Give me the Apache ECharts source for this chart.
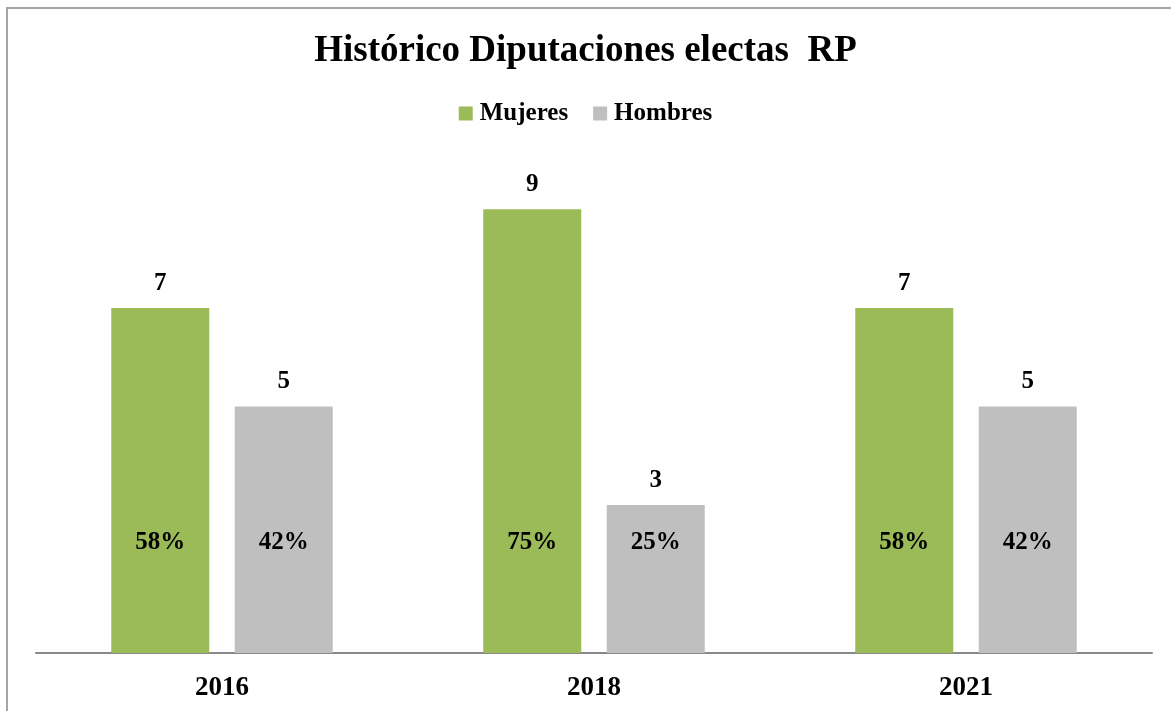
<!DOCTYPE html>
<html>
<head>
<meta charset="utf-8">
<script src="https://cdn.jsdelivr.net/npm/echarts@6/dist/echarts.min.js"></script>
<style>
  html, body { margin: 0; padding: 0; background: #fff; }
  #chart { width: 1171px; height: 711px; }
</style>
</head>
<body>
<div id="chart"></div>
<script>
// datos
const years = ['2016', '2018', '2021'];
const mujeres = [7, 9, 7];
const hombres = [5, 3, 5];
const pctMujeres = ['58%', '75%', '58%'];
const pctHombres = ['42%', '25%', '42%'];

const FONT = '"Liberation Serif", "DejaVu Serif", serif';
const GREEN = '#9bbb59';
const GRAY = '#bfbfbf';

const myChart = echarts.init(document.getElementById('chart'));

const topLabel = {
    show: true,
    position: 'top',
    distance: 12,
    fontFamily: FONT,
    fontWeight: 'bold',
    fontSize: 25,
    color: '#000'
};
const pctLabel = (arr) => ({
    show: true,
    position: 'insideBottom',
    distance: 98,
    fontFamily: FONT,
    fontWeight: 'bold',
    fontSize: 25,
    color: '#000',
    formatter: (p) => arr[p.dataIndex]
});

const option = {
    animation: false,
    title: {
        text: 'Histórico Diputaciones electas  RP',
        left: 'center',
        top: 28,
        textStyle: { fontFamily: FONT, fontWeight: 'bold', fontSize: 37, color: '#000' }
    },
    legend: {
        data: ['Mujeres', 'Hombres'],
        top: 96,
        left: 'center',
        itemWidth: 14,
        itemHeight: 14,
        itemGap: 25,
        icon: 'rect',
        textStyle: { fontFamily: FONT, fontWeight: 'bold', fontSize: 25, color: '#000', padding: [0, 0, 0, 2] }
    },
    graphic: [{
        type: 'rect',
        shape: { x: 7, y: 8, width: 1200, height: 760 },
        style: { fill: 'none', stroke: '#a6a6a6', lineWidth: 2 },
        silent: true
    }],
    grid: { left: 36, right: 19, top: 160, bottom: 58 },
    xAxis: [{
        type: 'category',
        data: years,
        axisTick: { show: false },
        axisLine: { lineStyle: { color: '#898989', width: 2 } },
        axisLabel: {
            margin: 22,
            fontFamily: FONT, fontWeight: 'bold', fontSize: 27, color: '#000'
        }
    }, {
        type: 'category',
        data: years,
        show: false
    }],
    yAxis: {
        type: 'value',
        min: 0,
        max: 10,
        show: false,
        splitLine: { show: false }
    },
    series: [{
        name: 'Mujeres',
        type: 'bar',
        xAxisIndex: 0,
        data: mujeres,
        barWidth: 98,
        barGap: '26%',
        itemStyle: { color: GREEN },
        label: topLabel
    }, {
        name: 'Hombres',
        type: 'bar',
        xAxisIndex: 0,
        data: hombres,
        barWidth: 98,
        barGap: '26%',
        itemStyle: { color: GRAY },
        label: topLabel
    }, {
        name: 'pctM',
        type: 'bar',
        xAxisIndex: 1,
        data: mujeres,
        barWidth: 98,
        barGap: '26%',
        silent: true,
        itemStyle: { color: 'rgba(0,0,0,0)' },
        label: pctLabel(pctMujeres)
    }, {
        name: 'pctH',
        type: 'bar',
        xAxisIndex: 1,
        data: hombres,
        barWidth: 98,
        barGap: '26%',
        silent: true,
        itemStyle: { color: 'rgba(0,0,0,0)' },
        label: pctLabel(pctHombres)
    }]
};

myChart.setOption(option);
</script>
</body>
</html>
